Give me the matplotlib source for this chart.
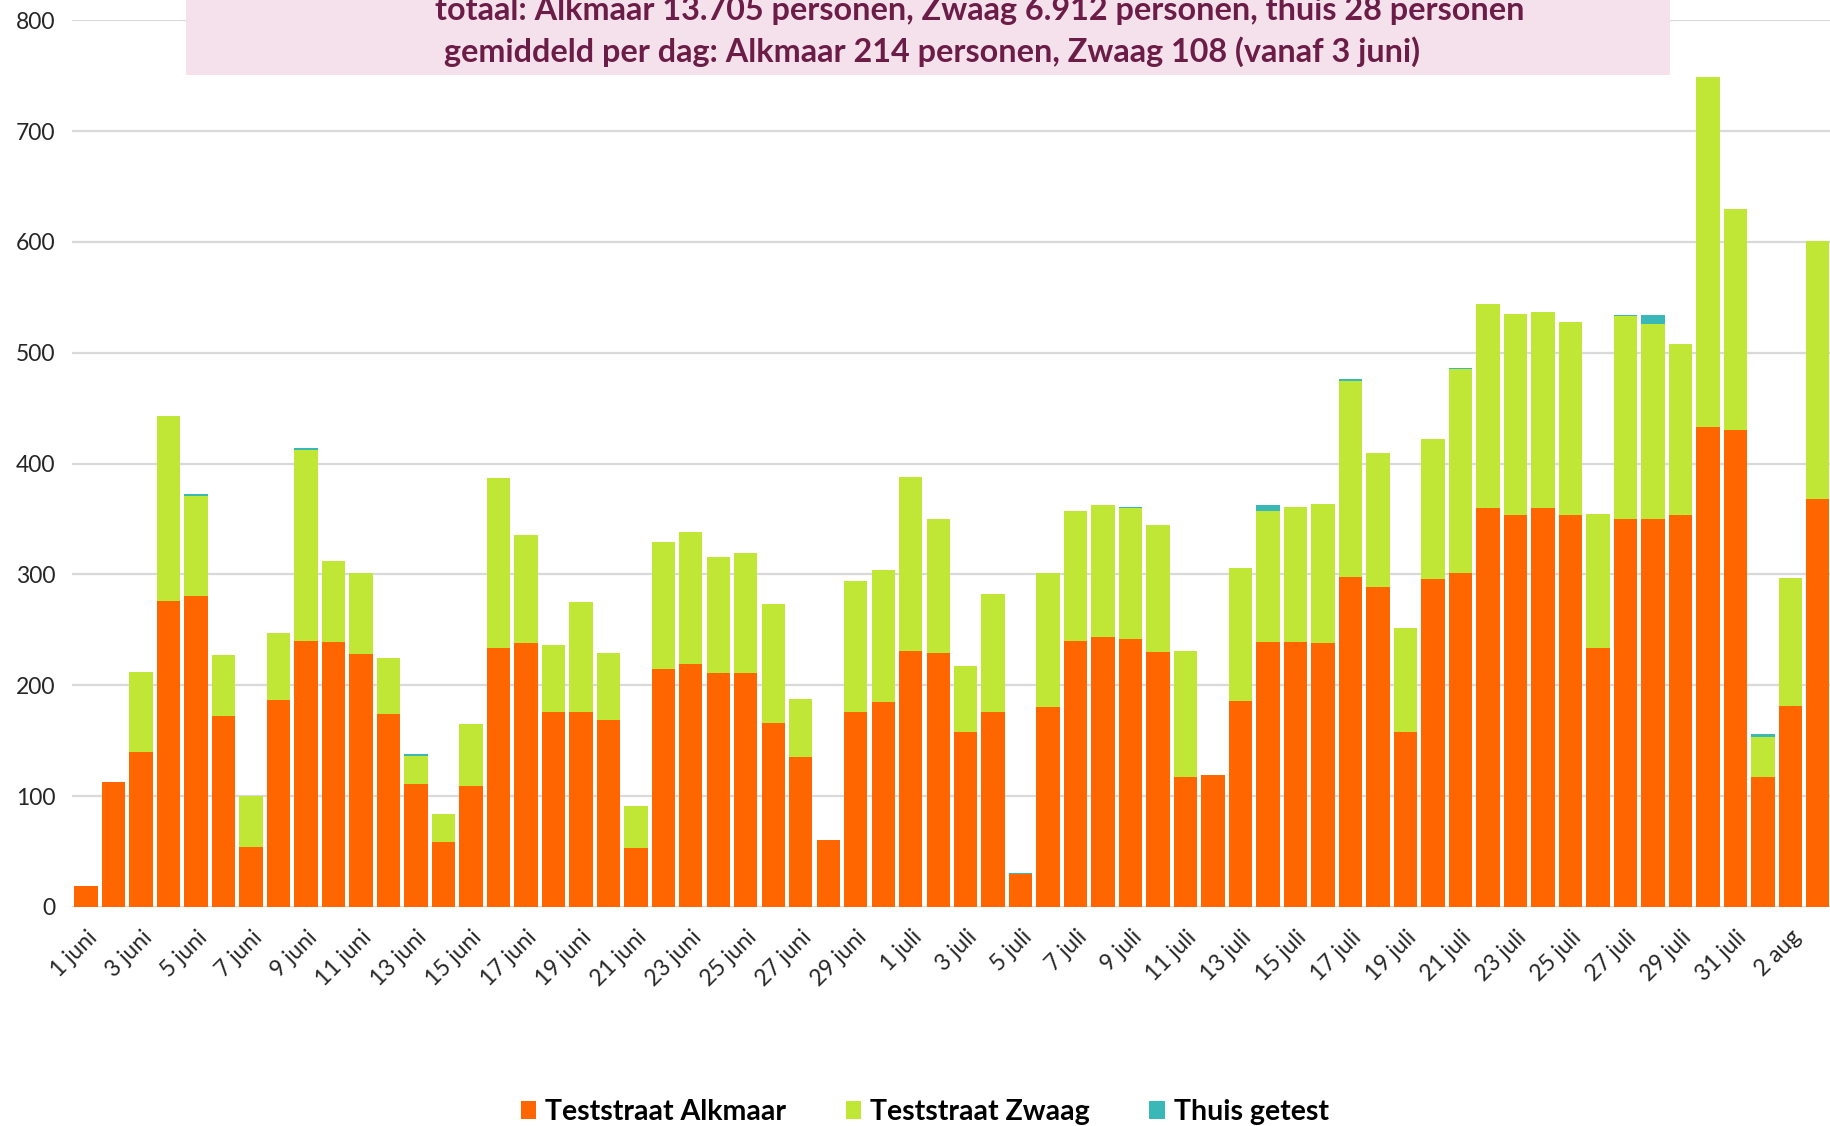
import matplotlib.pyplot as plt
from matplotlib.patches import Rectangle
import numpy as np

plt.rcParams['font.family'] = ['Lato', 'DejaVu Sans']

# dagen 1 juni t/m 3 aug
months = [('juni', 30), ('juli', 31), ('aug', 3)]
days = [f'{d} {m}' for m, n in months for d in range(1, n + 1)]

alkmaar = [19, 113, 140, 276, 281, 172, 54, 187, 240, 239,
           228, 174, 111, 59, 109, 234, 238, 176, 176, 169,
           53, 215, 219, 211, 211, 166, 135, 60, 176, 185,
           231, 229, 158, 176, 30, 180, 240, 244, 242, 230,
           117, 119, 186, 239, 239, 238, 298, 289, 158, 296,
           301, 360, 354, 360, 354, 234, 350, 350, 354, 433,
           430, 117, 181, 368]
zwaag = [0, 0, 72, 167, 90, 55, 46, 60, 172, 73,
         73, 51, 25, 25, 56, 153, 98, 60, 99, 60,
         38, 114, 119, 105, 108, 107, 53, 0, 118, 119,
         157, 121, 59, 106, 0, 121, 117, 119, 118, 115,
         114, 0, 120, 118, 122, 126, 177, 121, 94, 126,
         184, 184, 181, 177, 174, 121, 183, 176, 154, 316,
         200, 36, 116, 233]
thuis = [0, 0, 0, 0, 2, 0, 0, 0, 2, 0,
         0, 0, 2, 0, 0, 0, 0, 0, 0, 0,
         0, 0, 0, 0, 0, 0, 0, 0, 0, 0,
         0, 0, 0, 0, 1, 0, 0, 0, 1, 0,
         0, 0, 0, 6, 0, 0, 1, 0, 0, 0,
         1, 0, 0, 0, 0, 0, 1, 8, 0, 0,
         0, 3, 0, 0]

series = ['Teststraat Alkmaar', 'Teststraat Zwaag', 'Thuis getest']
colors = ['#FF6600', '#C0E636', '#3AB8B8']

fig = plt.figure(figsize=(18.31, 11.26), dpi=100)
ax = fig.add_axes([0.0395, 0.1945, 0.9605, 0.7875])

x = np.arange(len(days))
a = np.array(alkmaar)
z = np.array(zwaag)
t = np.array(thuis)
w = 0.85
ax.bar(x, a, width=w, color=colors[0], label=series[0], zorder=3)
ax.bar(x, z, width=w, bottom=a, color=colors[1], label=series[1], zorder=3)
ax.bar(x, t, width=w, bottom=a + z, color=colors[2], label=series[2], zorder=3)

ax.set_xlim(-0.5, len(days) - 0.52)
ax.set_ylim(0, 800)
ax.set_yticks(range(0, 801, 100))
ax.tick_params(axis='y', labelsize=16.5, length=0, pad=12, labelcolor='#262626')
ax.set_xticks(x[::2])
ax.set_xticklabels(days[::2], rotation=45, ha='right', rotation_mode='anchor',
                   fontsize=16.5, color='#262626')
ax.tick_params(axis='x', length=0, pad=14)
ax.grid(axis='y', color='#D9D9D9', linewidth=1.6, zorder=0)
for s in ax.spines.values():
    s.set_visible(False)

# kader met totalen (bovenste regel valt deels buiten beeld, zoals in het origineel)
fig.patches.append(Rectangle((0.1015, 0.933), 0.8105, 0.07, transform=fig.transFigure,
                             facecolor='#F5E1EC', edgecolor='none', zorder=5))
fig.text(0.535, 0.991, 'totaal: Alkmaar 13.705 personen, Zwaag 6.912 personen, thuis 28 personen',
         ha='center', va='center', fontsize=23.3, fontweight='bold', color='#6B1D47', zorder=6)
fig.text(0.509, 0.954, 'gemiddeld per dag: Alkmaar 214 personen, Zwaag 108 (vanaf 3 juni)',
         ha='center', va='center', fontsize=23.3, fontweight='bold', color='#6B1D47', zorder=6)

fig.legend(loc='lower center', bbox_to_anchor=(0.505, -0.022), ncol=3, frameon=False,
           prop={'size': 20.5, 'weight': 'bold'}, handlelength=0.55, handleheight=0.55,
           handletextpad=0.3, columnspacing=2.1)

fig.savefig('out.png', dpi=100)
